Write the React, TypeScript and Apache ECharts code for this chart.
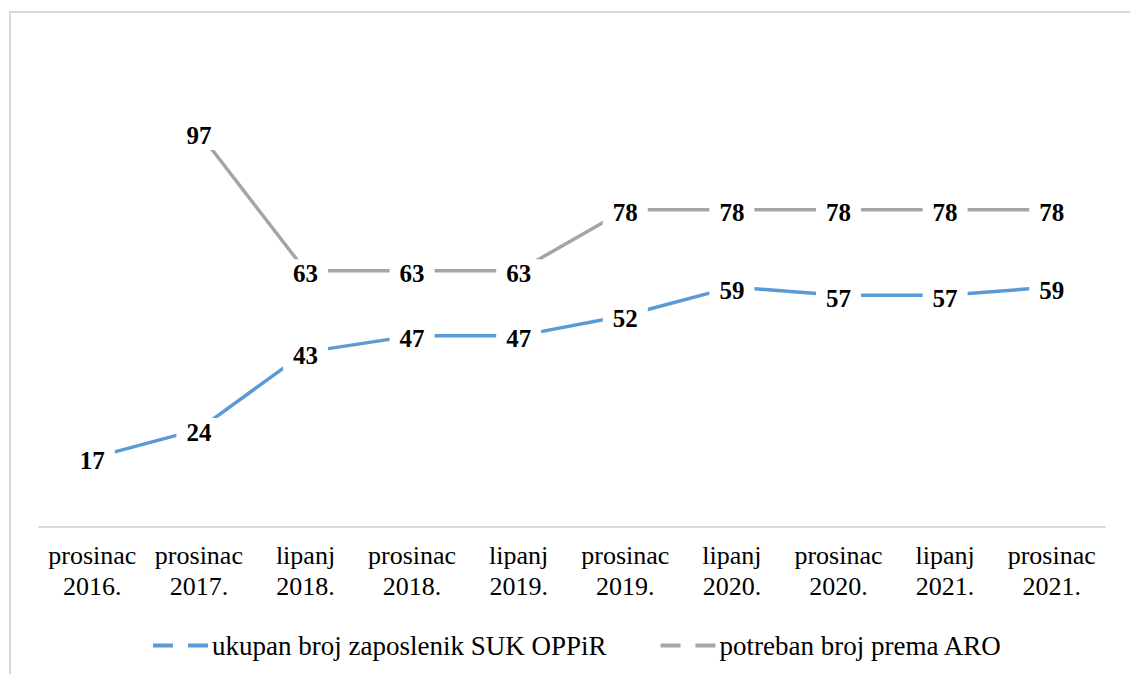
import React, { useEffect, useRef } from "react";
import * as echarts from "echarts";

const categories = [
  "prosinac\n2016.",
  "prosinac\n2017.",
  "lipanj\n2018.",
  "prosinac\n2018.",
  "lipanj\n2019.",
  "prosinac\n2019.",
  "lipanj\n2020.",
  "prosinac\n2020.",
  "lipanj\n2021.",
  "prosinac\n2021.",
];
const employees = [17, 24, 43, 47, 47, 52, 59, 57, 57, 59];
const required = [null, 97, 63, 63, 63, 78, 78, 78, 78, 78];
const seriesNames = ["ukupan broj zaposlenik SUK OPPiR", "potreban broj prema ARO"];

const FONT = "Times New Roman, Liberation Serif, serif";

export default function App() {
  const ref = useRef<HTMLDivElement>(null);
  useEffect(() => {
    if (!ref.current) return;
    const chart = echarts.init(ref.current, undefined, { renderer: "svg" });
    const labelStyle = {
      show: true,
      position: "inside",
      offset: [0, 3],
      fontFamily: FONT,
      fontSize: 25,
      fontWeight: "bold",
      color: "#000",
      backgroundColor: "#fff",
      padding: [3, 10, 1, 10],
    };
    chart.setOption({
      animation: false,
      backgroundColor: "#fff",
      textStyle: { fontFamily: FONT },
      grid: { left: 39, right: 25, top: 39, bottom: 147, containLabel: false },
      xAxis: {
        type: "category",
        data: categories,
        boundaryGap: true,
        axisLine: { show: true, lineStyle: { color: "#D9D9D9", width: 2 } },
        axisTick: { show: false },
        axisLabel: {
          fontFamily: FONT,
          fontSize: 26,
          lineHeight: 31,
          color: "#000",
          margin: 13,
          interval: 0,
        },
      },
      yAxis: {
        type: "value",
        min: 0,
        max: 120,
        show: false,
        splitLine: { show: false },
      },
      legend: {
        left: 148,
        top: 627,
        itemWidth: 55,
        itemHeight: 4,
        itemGap: 54,
        icon: "path://M0,0H20V4H0Z M35,0H55V4H35Z",
        textStyle: { fontFamily: FONT, fontSize: 27, color: "#000", padding: [0, 0, 0, -1] },
        data: seriesNames,
      },
      graphic: [
        {
          type: "rect",
          shape: { x: 10, y: 12, width: 1200, height: 700 },
          style: { fill: "none", stroke: "#D9D9D9", lineWidth: 2 },
          silent: true,
        },
      ],
      series: [
        {
          name: seriesNames[0],
          type: "line",
          data: employees,
          symbol: "circle",
          symbolSize: 0.1,
          showSymbol: true,
          color: "#5B9BD5",
          lineStyle: { color: "#5B9BD5", width: 3.5 },
          itemStyle: { color: "#5B9BD5" },
          label: labelStyle,
        },
        {
          name: seriesNames[1],
          type: "line",
          data: required,
          symbol: "circle",
          symbolSize: 0.1,
          showSymbol: true,
          color: "#A5A5A5",
          lineStyle: { color: "#A5A5A5", width: 3.5 },
          itemStyle: { color: "#A5A5A5" },
          label: labelStyle,
        },
      ],
    });
    return () => chart.dispose();
  }, []);
  return (
    <div
      ref={ref}
      style={{ position: "absolute", left: 0, top: 0, width: 1130, height: 674 }}
    />
  );
}
